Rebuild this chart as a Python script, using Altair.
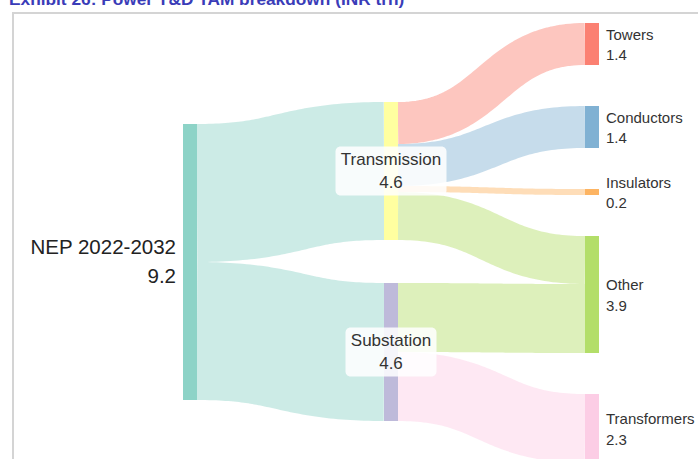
import altair as alt
import numpy as np
import pandas as pd

# ---------------- data ----------------
node_names = ["NEP 2022-2032", "Transmission", "Substation",
              "Towers", "Conductors", "Insulators", "Other", "Transformers"]
node_columns = [0, 1, 1, 2, 2, 2, 2, 2]
node_colors = ["#8dd3c7", "#ffffa0", "#bebada",
               "#fb8072", "#80b1d3", "#fdb462", "#b3de69", "#fccde5"]

link_sources = ["NEP 2022-2032", "NEP 2022-2032", "Transmission", "Transmission",
                "Transmission", "Transmission", "Substation", "Substation"]
link_targets = ["Transmission", "Substation", "Towers", "Conductors",
                "Insulators", "Other", "Other", "Transformers"]
link_values = [4.6, 4.6, 1.4, 1.4, 0.2, 1.6, 2.3, 2.3]

title_text = "Exhibit 26: Power T&D TAM breakdown (INR trn)"

# ---------------- layout (style) ----------------
W, H = 698, 459
PX_PER_UNIT = 30.0           # pixels per INR trn
COL_LEFT_PX = 183            # left edge of first column
COL_STEP_PX = 201            # distance between columns
NODE_W = 14 / COL_STEP_PX    # node width in column units
COL_TOP_PX = [124, 102, 23]  # top of each column stack
COL_PAD_PX = [0, 43, 41]     # gap between nodes in a column
LABEL_GAP = 7 / COL_STEP_PX
BOX_W_PX = {"Transmission": 111, "Substation": 91}
BOX_H_PX = 49

X_MIN = -COL_LEFT_PX / COL_STEP_PX
X_MAX = (W - COL_LEFT_PX) / COL_STEP_PX
Y_MAX = H / PX_PER_UNIT

# ---------------- sankey layout ----------------
vin = {n: 0.0 for n in node_names}
vout = {n: 0.0 for n in node_names}
for s, t, v in zip(link_sources, link_targets, link_values):
    vout[s] += v
    vin[t] += v
node_val = {n: max(vin[n], vout[n]) for n in node_names}

node_y0, node_y1 = {}, {}
for c in range(3):
    y = COL_TOP_PX[c] / PX_PER_UNIT
    for n, col in zip(node_names, node_columns):
        if col == c:
            node_y0[n] = y
            node_y1[n] = y + node_val[n]
            y = node_y1[n] + COL_PAD_PX[c] / PX_PER_UNIT
col_of = dict(zip(node_names, node_columns))
color_of = dict(zip(node_names, node_colors))

nodes = pd.DataFrame({
    "name": node_names,
    "x0": [c for c in node_columns],
    "x1": [c + NODE_W for c in node_columns],
    "y0": [node_y0[n] for n in node_names],
    "y1": [node_y1[n] for n in node_names],
    "color": node_colors,
})
nodes["yc"] = (nodes["y0"] + nodes["y1"]) / 2
nodes["label"] = [f"{n}\n{node_val[n]:.1f}" for n in node_names]

# link end positions
idx = list(range(len(link_values)))
src_off, tgt_off = {}, {}
for n in node_names:
    outs = sorted([i for i in idx if link_sources[i] == n], key=lambda i: node_y0[link_targets[i]])
    y = node_y0[n]
    for i in outs:
        src_off[i] = y + link_values[i] / 2
        y += link_values[i]
    ins = sorted([i for i in idx if link_targets[i] == n], key=lambda i: node_y0[link_sources[i]])
    y = node_y0[n]
    for i in ins:
        tgt_off[i] = y + link_values[i] / 2
        y += link_values[i]

rows = []
ts = np.linspace(0, 1, 61)
for i in idx:
    s, t, v = link_sources[i], link_targets[i], link_values[i]
    x0 = col_of[s] + NODE_W
    x1 = col_of[t]
    y0, y1 = src_off[i], tgt_off[i]
    col = color_of[s] if col_of[s] == 0 else color_of[t]
    for k, tt in enumerate(ts):
        bx = x0 + (x1 - x0) * (1.5 * tt * (1 - tt) + tt ** 3)
        by = y0 + (y1 - y0) * (3 * tt ** 2 - 2 * tt ** 3)
        rows.append({"link": i, "k": k, "x": bx, "y": by, "value": v, "color": col})
links = pd.DataFrame(rows)

xs = alt.Scale(domain=[X_MIN, X_MAX], nice=False, zero=False)
ys = alt.Scale(domain=[0, Y_MAX], reverse=True, nice=False, zero=False)
FONT = "Liberation Sans"

link_layer = alt.Chart(links).mark_line(strokeOpacity=0.45, strokeCap="butt", strokeJoin="round").encode(
    x=alt.X("x:Q", scale=xs, axis=None),
    y=alt.Y("y:Q", scale=ys, axis=None),
    strokeWidth=alt.StrokeWidth("value:Q", scale=alt.Scale(domain=[0, Y_MAX], range=[0, H]), legend=None),
    color=alt.Color("color:N", scale=None),
    detail="link:N",
    order="k:Q",
)

node_layer = alt.Chart(nodes).mark_rect().encode(
    x=alt.X("x0:Q", scale=xs, axis=None), x2="x1:Q",
    y=alt.Y("y0:Q", scale=ys, axis=None), y2="y1:Q",
    color=alt.Color("color:N", scale=None),
)

right = nodes[nodes["x0"] == 2].copy()
right["lx"] = right["x1"] + LABEL_GAP
right_labels = alt.Chart(right).mark_text(
    align="left", baseline="middle", fontSize=15, lineHeight=20.5, lineBreak="\n",
    dy=-9.5, font=FONT, color="#333333"
).encode(x=alt.X("lx:Q", scale=xs), y=alt.Y("yc:Q", scale=ys), text="label:N")

left = nodes[nodes["x0"] == 0].copy()
left["lx"] = left["x0"] - LABEL_GAP
left_labels = alt.Chart(left).mark_text(
    align="right", baseline="middle", fontSize=20.5, lineHeight=29, lineBreak="\n",
    dy=-14.5, font=FONT, color="#222222"
).encode(x=alt.X("lx:Q", scale=xs), y=alt.Y("yc:Q", scale=ys), text="label:N")

mid = nodes[nodes["x0"] == 1].copy()
mid["cx"] = mid["x0"] + NODE_W / 2
mid["bx0"] = [c - BOX_W_PX[n] / 2 / COL_STEP_PX for c, n in zip(mid["cx"], mid["name"])]
mid["bx1"] = [c + BOX_W_PX[n] / 2 / COL_STEP_PX for c, n in zip(mid["cx"], mid["name"])]
mid["by0"] = mid["yc"] - BOX_H_PX / 2 / PX_PER_UNIT
mid["by1"] = mid["yc"] + BOX_H_PX / 2 / PX_PER_UNIT
mid_boxes = alt.Chart(mid).mark_rect(color="white", opacity=0.85, cornerRadius=5).encode(
    x=alt.X("bx0:Q", scale=xs), x2="bx1:Q",
    y=alt.Y("by0:Q", scale=ys), y2="by1:Q",
)
mid_labels = alt.Chart(mid).mark_text(
    align="center", baseline="middle", fontSize=17, lineHeight=23, lineBreak="\n",
    dy=-11, font=FONT, color="#333333"
).encode(x=alt.X("cx:Q", scale=xs), y=alt.Y("yc:Q", scale=ys), text="label:N")

frame_left = alt.Chart(pd.DataFrame({"a": [0]})).mark_rule(color="#d4d4d4", strokeWidth=2).encode(
    x=alt.value(13), y=alt.value(12), y2=alt.value(H))
frame_top = alt.Chart(pd.DataFrame({"a": [0]})).mark_rule(color="#d4d4d4", strokeWidth=2).encode(
    x=alt.value(12), x2=alt.value(W), y=alt.value(13))
title_layer = alt.Chart(pd.DataFrame({"t": [title_text]})).mark_text(
    align="left", baseline="alphabetic", fontSize=17.3, fontWeight="bold", font=FONT, color="#3a3cb8"
).encode(x=alt.value(9), y=alt.value(5), text="t:N")

chart = alt.layer(
    link_layer, node_layer, mid_boxes, mid_labels, right_labels, left_labels,
    frame_left, frame_top, title_layer
).properties(
    width=W, height=H, padding=0, autosize=alt.AutoSizeParams(type="none"), background="white"
).configure_view(stroke=None)

chart.save("out.html", embed_options={"renderer": "svg", "actions": False})
